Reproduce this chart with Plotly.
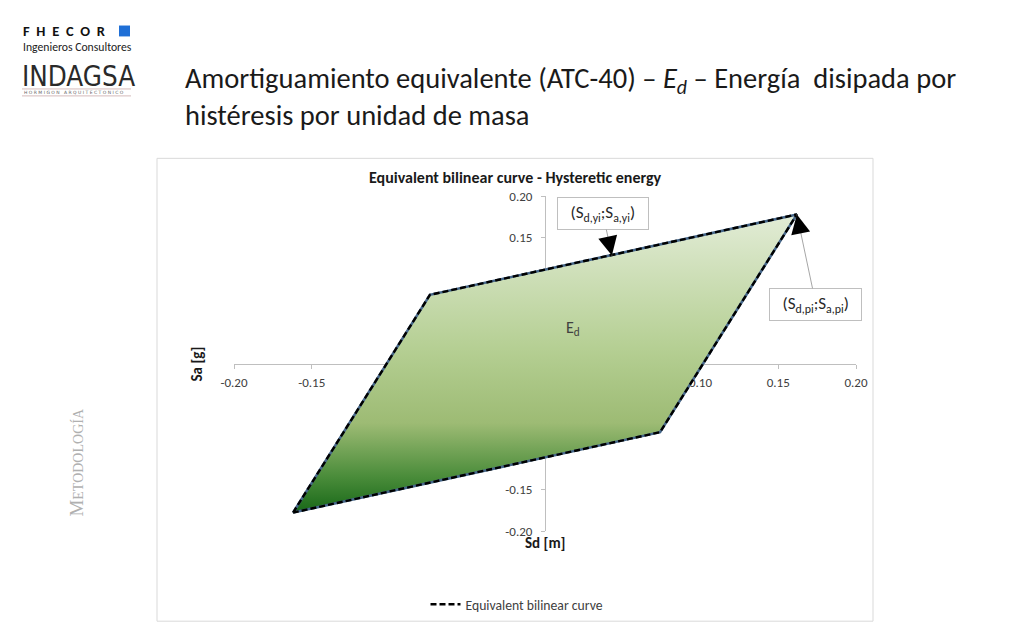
import plotly.graph_objects as go

# ---------------- data ----------------
sd_loop = [-0.162, -0.074, 0.162, 0.074, -0.162]   # Sd [m]
sa_loop = [-0.178, 0.082, 0.178, -0.082, -0.178]   # Sa [g]
series_name = "Equivalent bilinear curve"

x_tick_vals = [-0.20, -0.15, -0.10, -0.05, 0.00, 0.05, 0.10, 0.15, 0.20]
x_tick_text = ["-0.20", "-0.15", "-0.10", "-0.05", "0.00", "0.05", "0.10", "0.15", "0.20"]
y_tick_vals = [-0.20, -0.15, -0.10, -0.05, 0.00, 0.05, 0.10, 0.15, 0.20]
y_tick_text = ["-0.20", "-0.15", "-0.10", "-0.05", "0.00", "0.05", "0.10", "0.15", "0.20"]

yi_point = (0.043, 0.129)   # (Sd,yi ; Sa,yi) label target
pi_point = (0.162, 0.178)   # (Sd,pi ; Sa,pi) label target

slide_title = ("Amortiguamiento equivalente (ATC-40) – <i>E<sub>d</sub></i> – Energía  disipada por"
               "<br>histéresis por unidad de masa")
chart_title = "<b>Equivalent bilinear curve - Hysteretic energy</b>"

# ---------------- layout helpers ----------------
OFF = 8                       # browser body margin
FW, FH = 1024 - 2 * OFF, 640 - 2 * OFF
L, R, T, B = 234, 856, 196, 534   # plot area in window pixels


def px(x, y):
    return (x - L) / (R - L), (B - y) / (B - T)


FONT = "Carlito, Calibri, 'Open Sans', sans-serif"

fig = go.Figure()

fig.add_trace(go.Scatter(
    x=sd_loop, y=sa_loop, mode="lines", fill="toself",
    line=dict(color="#46678a", width=2.6),
    fillgradient=dict(type="vertical",
                      colorscale=[[0, "#186818"], [0.12, "#4a8c3a"], [0.3, "#9dbb74"],
                                  [0.55, "#b5cf93"], [1, "#e2ecd6"]]),
    showlegend=False, hoverinfo="skip"))

fig.add_trace(go.Scatter(
    x=sd_loop, y=sa_loop, mode="lines", name=series_name,
    line=dict(color="black", width=2.4, dash="6px,3px")))

axis_common = dict(
    showgrid=False, zeroline=False, showline=True, linecolor="#bfbfbf", linewidth=1,
    ticks="outside", ticklen=4, tickcolor="#bfbfbf",
    tickfont=dict(family=FONT, size=13, color="#404040"),
    anchor="free", position=0.5, layer="below traces")

fig.update_xaxes(range=[-0.2, 0.2], tickvals=x_tick_vals, ticktext=x_tick_text,
                 ticklabelstandoff=3, **axis_common)
fig.update_yaxes(range=[-0.2, 0.2], tickvals=y_tick_vals, ticktext=y_tick_text,
                 ticklabelstandoff=6, **axis_common)

ann = []
shapes = []


def text_at(text, x, y, size, color="#1a1a1a", family=FONT, xanchor="center",
            yanchor="middle", angle=0, align="center"):
    X, Y = px(x, y)
    ann.append(dict(text=text, x=X, y=Y, xref="paper", yref="paper", showarrow=False,
                    xanchor=xanchor, yanchor=yanchor, textangle=angle, align=align,
                    font=dict(family=family, size=size, color=color)))


# chart frame
x0, y0 = px(157, 158)
x1, y1 = px(873, 625)
shapes.append(dict(type="rect", xref="paper", yref="paper", x0=x0, y0=y1, x1=x1, y1=y0,
                   line=dict(color="#d9d9d9", width=1), fillcolor="rgba(0,0,0,0)", layer="below"))

text_at(chart_title, 515, 177, 16)
text_at("<b>Sd [m]</b>", 545, 546, 15)
text_at("<b>Sa [g]</b>", 197, 366, 15, angle=-90)
text_at("E<sub>d</sub>", 573, 330, 16, color="#404040")

# callouts
pad = "\u2002"
ann.append(dict(text=pad + "(S<sub>d,yi</sub>;S<sub>a,yi</sub>)" + pad,
                x=yi_point[0], y=yi_point[1],
                xref="x", yref="y", showarrow=True, arrowhead=0, arrowcolor="#a6a6a6",
                arrowwidth=1, ax=-9, ay=-42, bgcolor="white", bordercolor="#bfbfbf",
                borderwidth=1, borderpad=4, font=dict(family=FONT, size=17, color="#262626")))
ann.append(dict(text="", x=yi_point[0], y=yi_point[1], xref="x", yref="y", showarrow=True,
                arrowhead=2, arrowsize=2.4, arrowwidth=1.6, arrowcolor="black", ax=-2, ay=-9))

ann.append(dict(text=pad + "(S<sub>d,pi</sub>;S<sub>a,pi</sub>)" + pad,
                x=pi_point[0], y=pi_point[1],
                xref="x", yref="y", showarrow=True, arrowhead=0, arrowcolor="#a6a6a6",
                arrowwidth=1, ax=19, ay=90, bgcolor="white", bordercolor="#bfbfbf",
                borderwidth=1, borderpad=4, font=dict(family=FONT, size=17, color="#262626")))
ann.append(dict(text="", x=pi_point[0], y=pi_point[1], xref="x", yref="y", showarrow=True,
                arrowhead=2, arrowsize=2.4, arrowwidth=1.6, arrowcolor="black", ax=2, ay=10))

# slide title
text_at(slide_title, 183, 96, 28.5, xanchor="left", align="left")

# vertical side label
text_at("M<span style='font-size:14px'>ETODOLOGÍA</span>", 77, 465, 19, color="#b0b0b0",
        family="'Liberation Serif', 'DejaVu Serif', serif", angle=-90)

# logo
sp = "\u2004\u200a"
text_at("<b>" + sp.join("FHECOR") + "</b>", 21, 30, 14.5, color="#111111", xanchor="left")
bx0, by0 = px(119, 24)
bx1, by1 = px(130, 35)
shapes.append(dict(type="rect", xref="paper", yref="paper", x0=bx0, y0=by1, x1=bx1, y1=by0,
                   fillcolor="#1f6fd6", line=dict(width=0)))
text_at("Ingenieros Consultores", 21, 46, 11.7, color="#222222", xanchor="left")
text_at("INDAGSA", 20, 75, 27.5, color="#2a2a2a",
        family="'DejaVu Sans Condensed', Carlito, sans-serif", xanchor="left")
text_at("H O R M I G O N   A R Q U I T E C T O N I C O", 22, 91.5, 4.5, color="#666666",
        family="'DejaVu Sans', sans-serif", xanchor="left")
for yy in (88, 95):
    a0, b0 = px(22, yy)
    a1, _ = px(131, yy)
    shapes.append(dict(type="line", xref="paper", yref="paper", x0=a0, y0=b0, x1=a1, y1=b0,
                       line=dict(color="#c9a9a9", width=0.8)))

lgx, lgy = px(517, 608)
fig.update_layout(
    width=FW, height=FH,
    margin=dict(l=L - OFF, r=FW - (R - OFF), t=T - OFF, b=FH - (B - OFF), pad=0),
    paper_bgcolor="white", plot_bgcolor="rgba(0,0,0,0)",
    font=dict(family=FONT, size=13, color="#404040"),
    showlegend=True,
    legend=dict(orientation="h", x=lgx, y=lgy, xanchor="center", yanchor="middle",
                font=dict(family=FONT, size=13.7, color="#404040"), bgcolor="rgba(0,0,0,0)"),
    annotations=ann, shapes=shapes,
)

fig.write_html("out.html")
